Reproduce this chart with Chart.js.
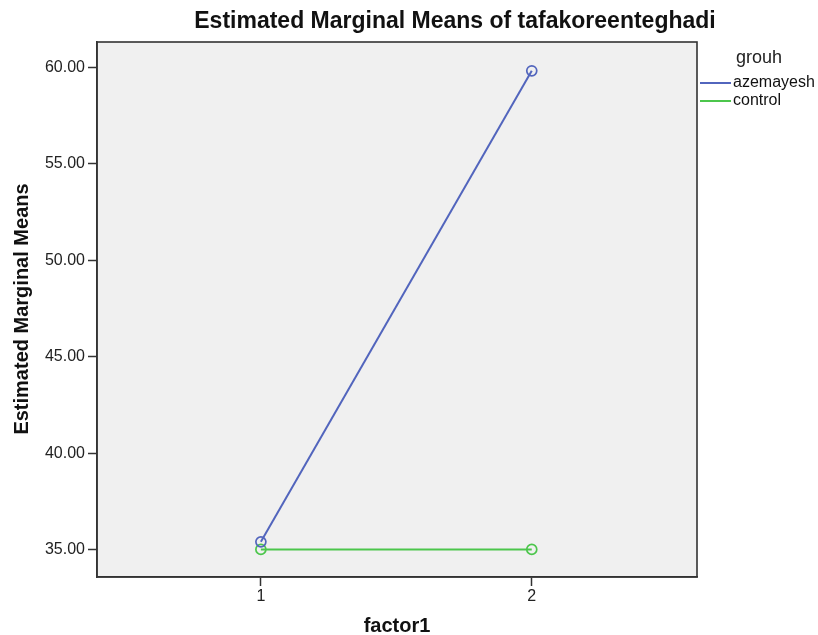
<!DOCTYPE html>
<html>
<head>
<meta charset="utf-8">
<script src="https://cdn.jsdelivr.net/npm/chart.js@4/dist/chart.umd.min.js"></script>
<style>
  html, body { margin: 0; padding: 0; background: #fff; }
  #wrap { width: 818px; height: 635px; }
</style>
</head>
<body>
<div id="wrap"><canvas id="emmChart" width="818" height="635"></canvas></div>
<script>
// values
const factorLevels = [1, 2];
const azemayesh = [35.42, 59.81];
const control = [35.03, 35.03];
const yTicks = [35, 40, 45, 50, 55, 60];
const groupNames = ['azemayesh', 'control'];
const groupColors = ['#5265bd', '#4cc64c'];

const FONT = '"Liberation Sans", Arial, sans-serif';

const toPoints = vals => factorLevels.map((x, i) => ({ x: x, y: vals[i] }));

const decorations = {
    id: 'decorations',
    beforeDraw(chart) {
        const { ctx, chartArea: a } = chart;
        ctx.save();
        ctx.fillStyle = '#f0f0f0';
        ctx.fillRect(a.left, a.top, a.right - a.left, a.bottom - a.top);
        ctx.restore();
    },
    afterDraw(chart) {
        const { ctx, chartArea: a } = chart;
        ctx.save();
        // box round the plot
        ctx.strokeStyle = '#333';
        ctx.lineWidth = 1.6;
        ctx.strokeRect(a.left, a.top, a.right - a.left, a.bottom - a.top);

        ctx.fillStyle = '#111';
        ctx.textBaseline = 'middle';

        // title
        ctx.font = 'bold 23px ' + FONT;
        ctx.textAlign = 'center';
        ctx.fillText('Estimated Marginal Means of tafakoreenteghadi', 455, 22);

        // x axis title
        ctx.font = 'bold 20px ' + FONT;
        ctx.fillText('factor1', (a.left + a.right) / 2, 626);

        // y axis title
        ctx.save();
        ctx.translate(22, 309);
        ctx.rotate(-Math.PI / 2);
        ctx.font = 'bold 20px ' + FONT;
        ctx.fillText('Estimated Marginal Means', 0, 0);
        ctx.restore();

        // legend
        ctx.textAlign = 'left';
        ctx.font = '18px ' + FONT;
        ctx.fillStyle = '#222';
        ctx.fillText('grouh', 736, 58);
        ctx.font = '16px ' + FONT;
        groupNames.forEach((name, i) => {
            const y = 83 + i * 18;
            ctx.strokeStyle = groupColors[i];
            ctx.lineWidth = 2;
            ctx.beginPath();
            ctx.moveTo(700, y);
            ctx.lineTo(731, y);
            ctx.stroke();
            ctx.fillStyle = '#111';
            ctx.fillText(name, 733, y);
        });
        ctx.restore();
    }
};

const ctx = document.getElementById('emmChart').getContext('2d');
new Chart(ctx, {
    type: 'line',
    data: {
        datasets: [azemayesh, control].map((vals, i) => ({
            label: groupNames[i],
            data: toPoints(vals),
            borderColor: groupColors[i],
            backgroundColor: 'transparent',
            borderWidth: 2,
            pointRadius: 5,
            pointBorderWidth: 1.7,
            pointBackgroundColor: 'transparent',
            pointBorderColor: groupColors[i],
            tension: 0
        }))
    },
    plugins: [decorations],
    options: {
        responsive: false,
        animation: false,
        devicePixelRatio: 1,
        layout: { padding: { left: 0, top: 42, right: 121, bottom: 0 } },
        plugins: {
            legend: { display: false },
            title: { display: false },
            tooltip: { enabled: false }
        },
        scales: {
            x: {
                type: 'linear',
                min: 0.395,
                max: 2.61,
                afterBuildTicks: s => { s.ticks = factorLevels.map(v => ({ value: v })); },
                afterFit: s => { s.height = 58; },
                grid: { drawOnChartArea: false, tickLength: 9, tickColor: '#333', tickWidth: 1.5 },
                border: { display: true, color: '#333', width: 1.6 },
                ticks: { color: '#222', padding: 1, font: { family: FONT, size: 16 }, callback: v => String(v) }
            },
            y: {
                min: 33.6,
                max: 61.3,
                afterBuildTicks: s => { s.ticks = yTicks.map(v => ({ value: v })); },
                afterFit: s => { s.width = 97; },
                grid: { drawOnChartArea: false, tickLength: 9, tickColor: '#333', tickWidth: 1.5 },
                border: { display: true, color: '#333', width: 1.6 },
                ticks: { color: '#222', padding: 3, font: { family: FONT, size: 16 }, callback: v => Number(v).toFixed(2) }
            }
        }
    }
});
</script>
</body>
</html>
